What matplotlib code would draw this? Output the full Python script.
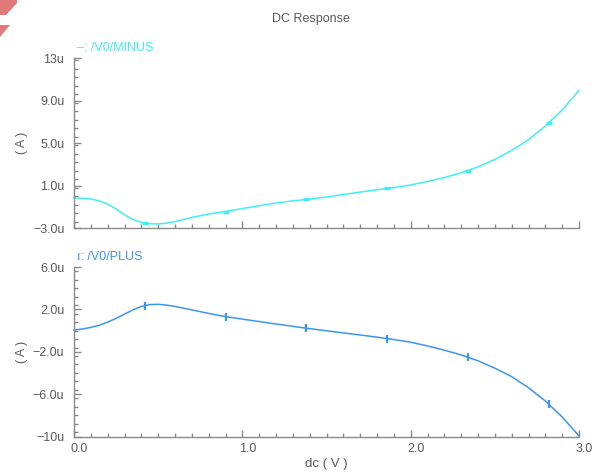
import matplotlib
matplotlib.use("Agg")
import matplotlib.pyplot as plt
from matplotlib.patches import Polygon
from matplotlib.ticker import MultipleLocator, FixedLocator
import matplotlib.transforms as mtransforms

plt.rcParams['font.family'] = ['Liberation Sans', 'DejaVu Sans']

# ---- data ----
dc_v = [0.0, 0.05, 0.1, 0.15, 0.2, 0.25, 0.3, 0.35, 0.4, 0.45, 0.5, 0.55, 0.6,
        0.7, 0.8, 0.9, 1.0, 1.1, 1.2, 1.3, 1.4, 1.5, 1.6, 1.7, 1.8, 1.9, 2.0,
        2.1, 2.2, 2.3, 2.4, 2.5, 2.6, 2.7, 2.8, 2.9, 3.0]
i_minus = [-0.17, -0.2, -0.27, -0.45, -0.75, -1.2, -1.75, -2.2, -2.47, -2.6,
           -2.62, -2.55, -2.4, -2.0, -1.68, -1.45, -1.17, -0.9, -0.65, -0.45,
           -0.28, -0.08, 0.15, 0.38, 0.6, 0.8, 1.05, 1.38, 1.75, 2.2, 2.75,
           3.45, 4.3, 5.3, 6.6, 8.1, 9.95]
i_plus = [0.05, 0.15, 0.3, 0.5, 0.8, 1.15, 1.55, 1.95, 2.28, 2.45, 2.48, 2.4,
          2.28, 1.95, 1.62, 1.32, 1.08, 0.85, 0.62, 0.4, 0.18, -0.02, -0.22,
          -0.42, -0.62, -0.85, -1.1, -1.45, -1.85, -2.3, -2.85, -3.55, -4.35,
          -5.4, -6.65, -8.15, -9.95]

mark_v = [0.42, 0.90, 1.38, 1.86, 2.34, 2.82]
mark_minus = [-2.52, -1.45, -0.31, 0.72, 2.4, 6.9]
mark_plus = [2.36, 1.32, 0.22, -0.76, -2.5, -6.9]

top_yticks = [-3.0, 1.0, 5.0, 9.0, 13.0]
top_ylabels = ["\u22123.0u", "1.0u", "5.0u", "9.0u", "13u"]
bot_yticks = [-10.0, -6.0, -2.0, 2.0, 6.0]
bot_ylabels = ["\u221210u", "\u22126.0u", "\u22122.0u", "2.0u", "6.0u"]
x_ticks = [0.0, 1.0, 2.0, 3.0]
x_labels = ["0.0", "1.0", "2.0", "3.0"]

title = "DC Response"
name_minus = "\u2012: /V0/MINUS"
name_plus = "\u0131: /V0/PLUS"

# ---- style ----
W, H = 595, 472
cyan = "#3ff0f2"
blue = "#3a95f5"
txt = "#5a5a5a"
axc = "#8a8a8a"

fig = plt.figure(figsize=(W / 100, H / 100), dpi=100)

def fx(p):
    return p / W

def fy(p):
    return 1 - p / H

x0, x1 = 74, 579
ax_top = fig.add_axes([fx(x0), fy(228), fx(x1 - x0), (228 - 58) / H])
ax_bot = fig.add_axes([fx(x0), fy(436.5), fx(x1 - x0), (436.5 - 267) / H])

def style(ax, yticks, ylabels, ylim, show_x):
    ax.set_xlim(0, 3.0)
    ax.set_ylim(*ylim)
    for s in ("top", "right"):
        ax.spines[s].set_visible(False)
    for s in ("left", "bottom"):
        ax.spines[s].set_color(axc)
        ax.spines[s].set_linewidth(1.0)
    ax.xaxis.set_major_locator(FixedLocator(x_ticks))
    ax.xaxis.set_minor_locator(MultipleLocator(0.1))
    ax.yaxis.set_major_locator(FixedLocator(yticks))
    ax.yaxis.set_minor_locator(MultipleLocator(0.8))
    ax.set_yticklabels(ylabels)
    ax.tick_params(which="both", direction="in", color=axc, width=1.0)
    ax.tick_params(which="major", length=5)
    ax.tick_params(which="minor", length=3)
    ax.tick_params(axis="y", labelsize=9, labelcolor=txt, pad=7)
    ax.tick_params(axis="x", labelsize=9, labelcolor=txt, pad=5)
    if show_x:
        ax.set_xticklabels(x_labels)
        off = mtransforms.ScaledTranslation(5 / 100, 0, fig.dpi_scale_trans)
        for lb in ax.get_xticklabels():
            lb.set_transform(lb.get_transform() + off)
    else:
        ax.set_xticklabels([])
    ax.set_ylabel("( A )", fontsize=9, color=txt)
    ax.yaxis.set_label_coords(fx(28 - x0) / ax.get_position().width, 0.5)

style(ax_top, top_yticks, top_ylabels, (-3.0, 13.0), False)
style(ax_bot, bot_yticks, bot_ylabels, (-10.0, 6.0), True)

ax_top.plot(dc_v, i_minus, color=cyan, lw=1.1, clip_on=False)
ax_top.plot(mark_v, mark_minus, ls="none", marker="_", ms=5, mew=2.5, color=cyan)
ax_bot.plot(dc_v, i_plus, color=blue, lw=1.1, clip_on=False)
ax_bot.plot(mark_v, mark_plus, ls="none", marker="|", ms=6, mew=1.6, color=blue)

fig.text(fx(311), fy(19), title, ha="center", va="center", fontsize=9, color=txt)
fig.text(fx(77), fy(48), name_minus, ha="left", va="center", fontsize=9, color=cyan)
fig.text(fx(77), fy(257), name_plus, ha="left", va="center", fontsize=9, color=blue)
fig.text(fx(326), fy(464), "dc ( V )", ha="center", va="center", fontsize=9.5, color=txt)

pink = "#e07a7a"
fig.patches.append(Polygon([(fx(0), fy(0)), (fx(17), fy(0)), (fx(17), fy(3)), (fx(6), fy(15)), (fx(0), fy(15))],
                           closed=True, transform=fig.transFigure, color=pink, lw=0))
fig.patches.append(Polygon([(fx(0), fy(25)), (fx(10), fy(25)), (fx(0), fy(37))],
                           closed=True, transform=fig.transFigure, color=pink, lw=0))

fig.savefig("out.png", dpi=100, facecolor="white")
